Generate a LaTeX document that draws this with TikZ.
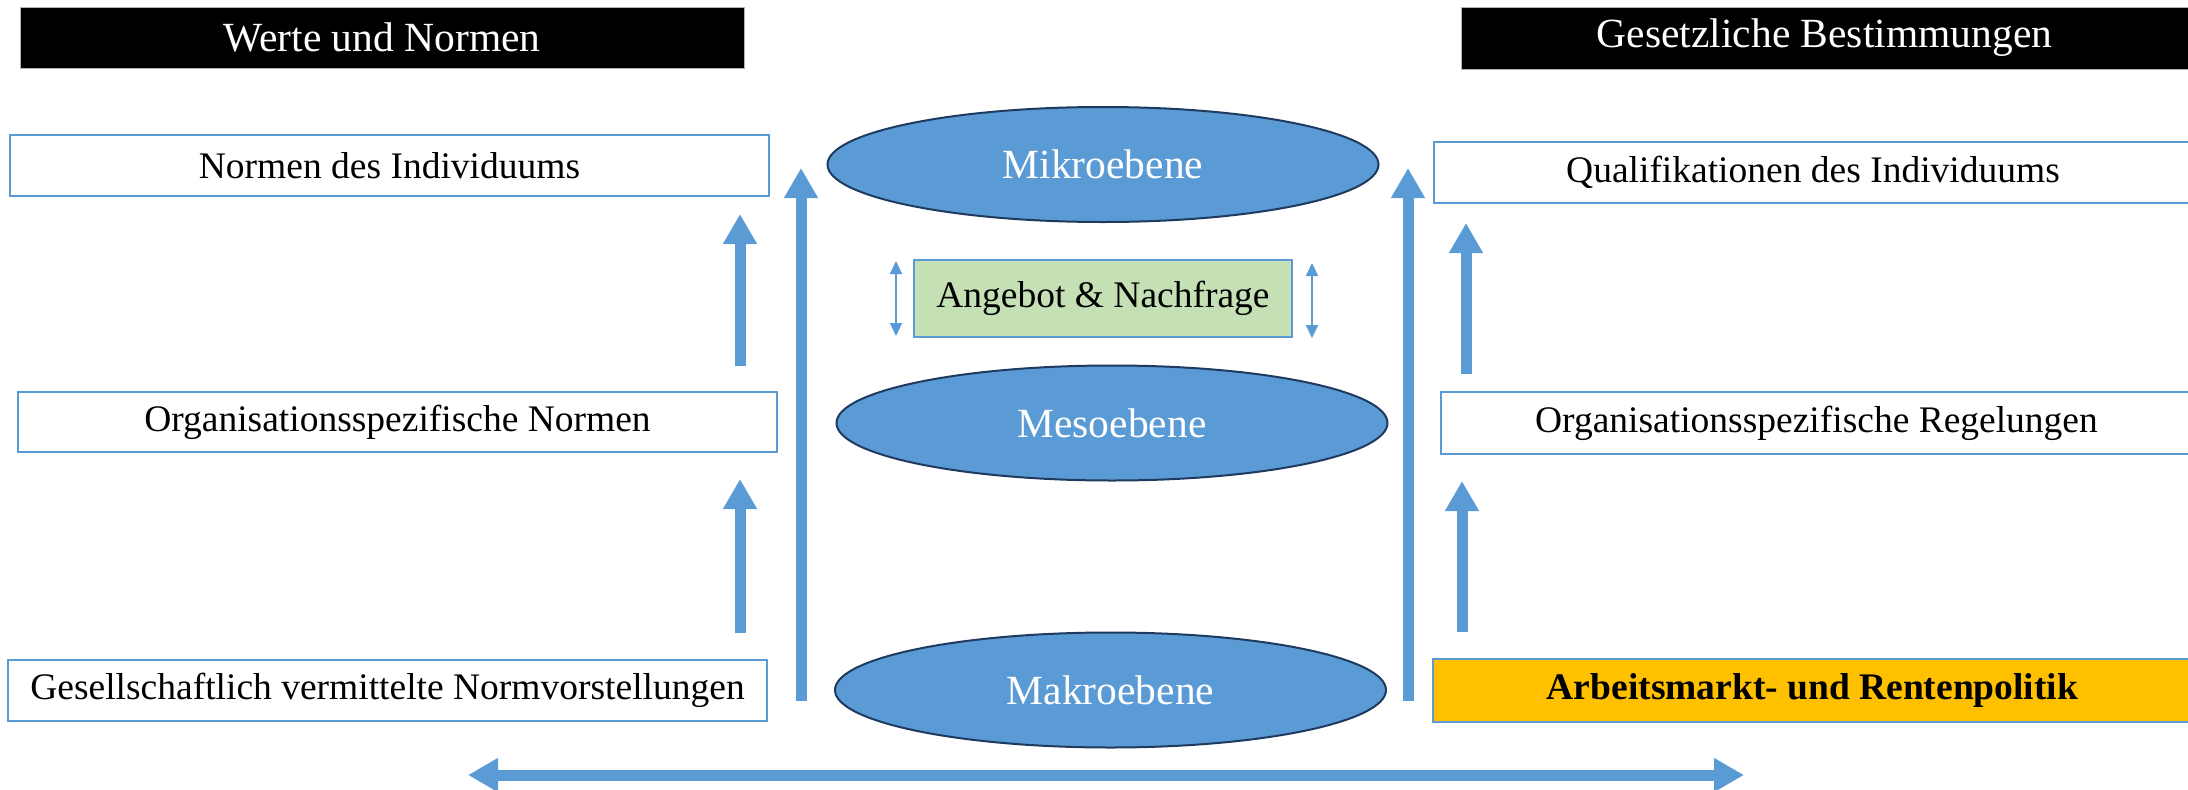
\documentclass[tikz,border=0pt]{standalone}
\usepackage{fontspec}
\setmainfont{Liberation Serif}
\usetikzlibrary{arrows.meta,shapes.geometric}
\definecolor{mblue}{HTML}{5B9BD5}
\definecolor{mnavy}{HTML}{1F3A5F}
\definecolor{mgold}{HTML}{FFC000}
\definecolor{mgreen}{HTML}{C5E0B4}
\tikzset{
  hdr/.style={fill=black,draw=gray!60,line width=1pt,text=white,inner sep=0pt,
    font=\fontsize{41.5}{48}\selectfont},
  wbox/.style={fill=white,draw=mblue,line width=2.5pt,inner sep=0pt,
    font=\fontsize{37.5}{44}\selectfont},
  lvl/.style={ellipse,fill=mblue,draw=mnavy,line width=2pt,text=white,inner sep=0pt,
    minimum width=551pt,minimum height=115pt,font=\fontsize{41.5}{48}\selectfont},
  bigarrow/.style={draw=mblue,line width=11pt,-{Triangle[length=30pt,width=32pt]}},
  dblarrow/.style={draw=mblue,line width=11pt,{Triangle[length=30pt,width=32pt]}-{Triangle[length=30pt,width=32pt]}},
  thinarrow/.style={draw=mblue,line width=2.2pt,{Triangle[length=13pt,width=12pt]}-{Triangle[length=13pt,width=12pt]}}
}
\begin{document}
\begin{tikzpicture}[x=1pt,y=-1pt]
\useasboundingbox (0,0) rectangle (2188,790);
% headers
\node[hdr,minimum width=724pt,minimum height=61pt] (hl) at (382,37.5) {Werte und Normen};
\node[hdr,minimum width=727pt,minimum height=62pt] (hr) at (1824.5,38) {Gesetzliche Bestimmungen};
% left boxes
\node[wbox,minimum width=759pt,minimum height=61pt] (l1) at (389.5,165.5) {Normen des Individuums};
\node[wbox,minimum width=759pt,minimum height=60pt] (l2) at (397.5,422) {Organisationsspezifische Normen};
\node[wbox,minimum width=759pt,minimum height=61pt] (l3) at (387.5,690.5) {Gesellschaftlich vermittelte Normvorstellungen};
% right boxes
\node[wbox,minimum width=758pt,minimum height=61pt] (r1) at (1813,172.5) {Qualifikationen des Individuums};
\node[wbox,minimum width=751pt,minimum height=62pt] (r2) at (1816.5,423) {Organisationsspezifische Regelungen};
\node[wbox,fill=mgold,minimum width=759pt,minimum height=63pt,font=\fontsize{37.5}{44}\selectfont\bfseries] (r3) at (1812.5,690.5) {Arbeitsmarkt- und Rentenpolitik};
% levels
\node[lvl] (mikro) at (1103,164.5) {Mikroebene};
\node[lvl] (meso) at (1112,423) {Mesoebene};
\node[lvl] (makro) at (1110.5,690) {Makroebene};
\node[wbox,fill=mgreen,minimum width=378pt,minimum height=77pt] (an) at (1103,298.5) {Angebot \& Nachfrage};
% arrow coordinates
\coordinate (bl0) at (801,701); \coordinate (bl1) at (801,168);
\coordinate (br0) at (1408,701); \coordinate (br1) at (1408,168);
\coordinate (sl0) at (740,366); \coordinate (sl1) at (740,214);
\coordinate (sl2) at (740,633); \coordinate (sl3) at (740,479);
\coordinate (sr0) at (1466,374); \coordinate (sr1) at (1466,223);
\coordinate (sr2) at (1462,632); \coordinate (sr3) at (1462,481);
\coordinate (hx0) at (468,775); \coordinate (hx1) at (1744,775);
\coordinate (ta0) at (896,261); \coordinate (ta1) at (896,336);
\coordinate (tb0) at (1312,263); \coordinate (tb1) at (1312,338);
% arrows
\draw[bigarrow] (bl0) -- (bl1);
\draw[bigarrow] (br0) -- (br1);
\draw[bigarrow] (sl0) -- (sl1);
\draw[bigarrow] (sl2) -- (sl3);
\draw[bigarrow] (sr0) -- (sr1);
\draw[bigarrow] (sr2) -- (sr3);
\draw[dblarrow] (hx0) -- (hx1);
\draw[thinarrow] (ta0) -- (ta1);
\draw[thinarrow] (tb0) -- (tb1);
\end{tikzpicture}
\end{document}
